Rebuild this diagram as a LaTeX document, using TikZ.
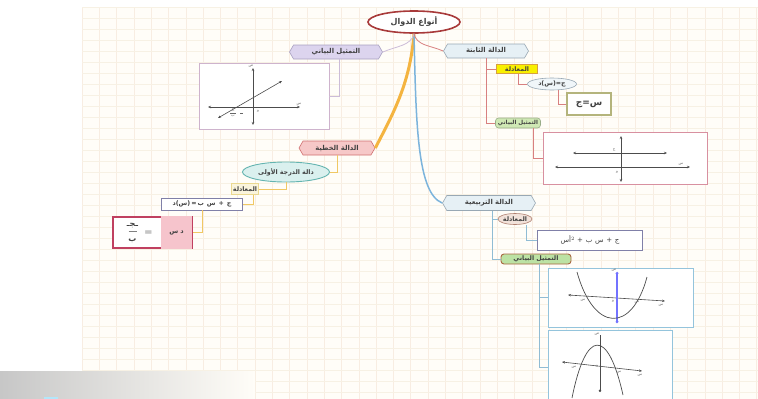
\documentclass[tikz,border=0pt]{standalone}
\usepackage{fontspec}
\TeXXeTstate=1
\newfontfamily\arfont[Script=Arabic]{DejaVu Sans}
\newfontfamily\symfont{DejaVu Sans}
\usetikzlibrary{shapes.geometric,shapes.symbols,arrows.meta,calc}
\newcommand\ar[1]{{\arfont\beginR #1\endR}}
% one Arabic piece in a box of its own, so pieces run left to right
\newcommand\arw[1]{\hbox{\arfont #1}}
\newcommand\sym[1]{\hbox{\symfont #1}}

\definecolor{paper}{HTML}{FFFDF8}
\definecolor{gridv}{HTML}{F8EDE2}
\definecolor{gridh}{HTML}{F7F1E4}
\definecolor{rootred}{HTML}{A83A3A}
\definecolor{lavfill}{HTML}{DCD4EE}
\definecolor{lavline}{HTML}{A8A0C0}
\definecolor{skyfill}{HTML}{E6F0F5}
\definecolor{skyline}{HTML}{98A8B4}
\definecolor{yelfill}{HTML}{F8F000}
\definecolor{yelline}{HTML}{D8A040}
\definecolor{olivebox}{HTML}{B4B47C}
\definecolor{grnfill}{HTML}{CFE8B4}
\definecolor{grnline}{HTML}{98AC88}
\definecolor{pinkbox}{HTML}{D890A0}
\definecolor{pinkhex}{HTML}{F6C8C8}
\definecolor{pinkhexl}{HTML}{D07070}
\definecolor{tealfill}{HTML}{DAF0EE}
\definecolor{tealline}{HTML}{64B4B0}
\definecolor{beigefill}{HTML}{FAF4DC}
\definecolor{beigeline}{HTML}{EAD890}
\definecolor{purpline}{HTML}{8080A8}
\definecolor{rootpink}{HTML}{C04060}
\definecolor{rootfill}{HTML}{F6C4CC}
\definecolor{qellfill}{HTML}{F2E2DA}
\definecolor{qellline}{HTML}{B08070}
\definecolor{qgfill}{HTML}{BCE2A4}
\definecolor{qgline}{HTML}{A86840}
\definecolor{qbox}{HTML}{94C4DC}
\definecolor{cstln}{HTML}{D88080}
\definecolor{repln}{HTML}{CCBCD8}
\definecolor{linln}{HTML}{F0C864}
\definecolor{quadln}{HTML}{90BCD4}
\definecolor{stemorange}{HTML}{F4B440}
\definecolor{stemblue}{HTML}{7CB4DC}

\tikzset{
  txt/.style={font=\fontsize{6.3}{7}\selectfont\bfseries, text=black!75, inner sep=0pt},
  hexa/.style={txt, font=\fontsize{6.8}{7.5}\selectfont\bfseries, shape=signal, signal to=west and east, signal pointer angle=120, draw, line width=0.6pt},
  boxed/.style={txt, shape=rectangle, draw, line width=0.6pt},
  rboxed/.style={txt, shape=rectangle, rounded corners=3pt, draw, line width=0.6pt},
  oval/.style={txt, shape=ellipse, draw, line width=0.6pt},
  graphbox/.style={shape=rectangle, draw, fill=white, line width=0.8pt},
  axis/.style={line width=0.6pt, black!70, {Stealth[length=3pt,width=2.5pt]}-{Stealth[length=3pt,width=2.5pt]}},
  tiny/.style={font=\fontsize{3.8}{4}\selectfont, text=black!60, inner sep=0pt},
  conn/.style={line width=0.8pt}
}

\begin{document}
\begin{tikzpicture}[x=1pt,y=-1pt]
\useasboundingbox (0,0) rectangle (758,399);

% squared paper
\fill[white] (0,0) rectangle (758,399);
\fill[paper] (82,7) rectangle (758,399);
\foreach \i in {0,...,39} {
  \draw[gridv, line width=0.6pt] ({82+17.3*\i},7) -- ({82+17.3*\i},399);
}
\foreach \j in {0,...,35} {
  \draw[gridh, line width=0.6pt] (82,{7+11*\j}) -- (758,{7+11*\j});
}

% central topic
\node[oval, draw=rootred, line width=1.6pt, fill=white, minimum width=92, minimum height=22,
      font=\fontsize{8}{9}\selectfont\bfseries] (root) at (414,22) {\ar{أنواع الدوال}};

% first level
\node[hexa, fill=lavfill, draw=lavline, minimum width=93, minimum height=14] (rep) at (336,52) {\ar{التمثيل البياني}};
\node[hexa, fill=skyfill, draw=skyline, minimum width=85, minimum height=14] (cst) at (486,51) {\ar{الدالة الثابتة}};
\node[hexa, fill=pinkhex, draw=pinkhexl, minimum width=76, minimum height=14] (lin) at (337,148) {\ar{الدالة الخطية}};
\node[hexa, fill=skyfill, draw=skyline, minimum width=93, minimum height=15] (qd) at (489,203) {\ar{الدالة التربيعية}};

% stems from the central topic
\draw[line width=3pt, stemorange] (root.south) .. controls +(-4,50) and +(18,-35) .. (lin.east);
\draw[line width=1.5pt, stemblue] (root.south) .. controls +(2,90) and +(-25,-10) .. (qd.west);
\draw[line width=0.8pt, repln] (root.south) .. controls +(-3,12) and +(14,-6) .. (rep.east);
\draw[line width=0.8pt, cstln] (root.south) .. controls +(3,12) and +(-14,-6) .. (cst.west);

% graphical representation (left)
\node[graphbox, draw=repln!80!pinkbox, minimum width=130, minimum height=66] (g0) at (264,96) {};
\draw[conn, repln] ([xshift=3pt]rep.south) |- (g0.east);
\draw[axis] (253,68) -- (253,125);
\draw[axis] (208,107) -- (300,107);
\draw[axis] (218,118) -- (282,81);
\node[tiny] (g0y) at (251,66) {\ar{ص}};
\node[tiny] (g0x) at (299,104) {\ar{س}};
\node[tiny] (g0o) at (258,111) {\ar{و}};
\node[tiny] (g0n) at (233,110) {\ar{ج}};
\node[tiny] (g0d) at (233,116) {\ar{ب}};
\draw[black!60, line width=0.3pt] (230,113) -- (236,113);
\draw[black!60, line width=0.3pt] (240,113) -- (243,113);

% constant function
\node[boxed, fill=yelfill, draw=yelline, minimum width=41, minimum height=9] (eqA) at (517,69) {\ar{المعادلة}};
\node[oval, fill=skyfill!60, draw=skyline, minimum width=49, minimum height=12] (fA) at (552,84)
  {\arw{د}\sym{(}\arw{س}\sym{)}\sym{=}\arw{ج}};
\node[boxed, draw=olivebox, line width=1.3pt, fill=white, minimum width=44, minimum height=22,
      font=\fontsize{9}{10}\selectfont\bfseries] (sA) at (589,104) {\ar{س=ج}};
\node[rboxed, fill=grnfill, draw=grnline, minimum width=45, minimum height=10,
      font=\fontsize{5.6}{6}\selectfont\bfseries] (grA) at (518,123) {\ar{التمثيل البياني}};
\node[graphbox, draw=pinkbox, minimum width=164, minimum height=52] (gA) at (625,158) {};

\draw[conn, cstln] (cst.south) |- (eqA.west);
\draw[conn, cstln] (cst.south) |- (grA.west);
\draw[conn, cstln] ([xshift=1pt]eqA.south) |- (fA.west);
\draw[conn, cstln] ([xshift=6pt]fA.south) |- (sA.west);
\draw[conn, cstln] ([xshift=15pt]grA.south) |- (gA.west);

\draw[axis] (621,136) -- (621,182);
\draw[axis] (573,153) -- (667,153);
\draw[axis] (555,167) -- (690,167);
\node[tiny] (gAc) at (614,150) {\ar{ج}};
\node[tiny] (gAx) at (681,164) {\ar{س}};
\node[tiny] (gAo) at (617,172) {\ar{و}};

% linear function
\node[oval, fill=tealfill, draw=tealline, line width=0.9pt, minimum width=87, minimum height=20] (deg) at (286,172) {\ar{دالة الدرجة الأولى}};
\node[boxed, fill=beigefill, draw=beigeline, minimum width=27, minimum height=11] (eqL) at (245,189) {\ar{المعادلة}};
\node[boxed, fill=white, draw=purpline, line width=0.9pt, minimum width=81, minimum height=12] (fL) at (202,204)
  {\arw{د}\sym{(}\arw{س}\sym{)}\,\sym{=}\,\arw{ب}\ \arw{س}\ \sym{+}\ \arw{ج}};
\node[boxed, fill=white, draw=rootpink, line width=1.1pt, minimum width=79, minimum height=31] (rL) at (152.5,232.5) {};
\fill[rootfill] ([xshift=-0.55pt,yshift=0.55pt]rL.north east) rectangle ([xshift=-32pt,yshift=-0.55pt]rL.south east);
\node[txt, font=\fontsize{6.5}{7}\selectfont\bfseries] (rLa) at ([xshift=-16pt]rL.east) {\ar{د س}};
\node[txt, font=\fontsize{8}{9}\selectfont\bfseries] (rLe) at ([xshift=-4pt]rL.center) {=};
\node[txt, font=\fontsize{8}{9}\selectfont\bfseries] (rLn) at ([xshift=-20pt,yshift=7pt]rL.center) {\ar{ـجـ}};
\node[txt, font=\fontsize{8}{9}\selectfont\bfseries] (rLd) at ([xshift=-20pt,yshift=-8pt]rL.center) {\ar{ب}};
\draw[black!50, line width=0.4pt] ([xshift=-24pt,yshift=1pt]rL.center) -- ([xshift=-16pt,yshift=1pt]rL.center);

\draw[conn, linln] (lin.south) |- (deg.east);
\draw[conn, linln] (deg.south) |- (eqL.east);
\draw[conn, linln] ([xshift=8pt]eqL.south) |- (fL.east);
\draw[conn, linln] (fL.south) |- (rL.east);

% quadratic function
\node[oval, fill=qellfill, draw=qellline, minimum width=34, minimum height=11] (qe) at (515,219) {\ar{المعادلة}};
\node[boxed, fill=white, draw=purpline, line width=0.9pt, minimum width=105, minimum height=20,
      font=\fontsize{7}{8}\selectfont] (qf) at (590,240)
  {\arw{أس}\raisebox{2.5pt}{\hbox{\fontsize{5}{5}\selectfont 2}}\ \sym{+}\ \arw{ب}\ \arw{س}\ \sym{+}\ \arw{ج}};
\node[rboxed, fill=qgfill, draw=qgline, line width=0.9pt, minimum width=70, minimum height=10] (qg) at (536,259) {\ar{التمثيل البياني}};
\node[graphbox, draw=qbox, minimum width=145, minimum height=59] (gB) at (620.5,297.5) {};
\node[graphbox, draw=qbox, minimum width=124, minimum height=75] (gC) at (610,367.5) {};

\draw[conn, quadln] ([xshift=3pt]qd.south) |- (qe.west);
\draw[conn, quadln] ([xshift=3pt]qd.south) |- (qg.west);
\draw[conn, quadln] ([xshift=11pt]qe.south) |- (qf.west);
\draw[conn, quadln] ([xshift=3pt]qg.south) |- (gB.west);
\draw[conn, quadln] ([xshift=3pt]qg.south) |- (gC.west);

% upward parabola
\draw[axis] (568,295) -- (665,301);
\draw[line width=1.6pt, blue!55, {Circle[length=2.5pt]}-{Circle[length=2.5pt]}] (617,272) -- (617,323);
\draw[line width=0.7pt, black!70] (577,272) .. controls (594,333) and (632,333) .. (647,277);
\node[tiny] (gBa) at (583,300) {\ar{س}};
\node[tiny] (gBb) at (637,302) {\ar{س}};
\node[tiny] (gBo) at (613,301) {\ar{و}};
\node[tiny] (gBx) at (661,305) {\ar{س}};
\node[tiny] (gBy) at (614,270) {\ar{ص}};

% downward parabola
\draw[axis] (562,362) -- (642,371);
\draw[line width=0.7pt, black!70, -{Circle[length=2.5pt]}] (600,335) -- (600,392);
\draw[line width=0.7pt, black!70] (572,398) .. controls (586,328) and (608,328) .. (623,395);
\node[tiny] (gCa) at (574,367) {\ar{س}};
\node[tiny] (gCb) at (619,372) {\ar{س}};
\node[tiny] (gCo) at (597,366) {\ar{و}};
\node[tiny] (gCx) at (640,375) {\ar{س}};
\node[tiny] (gCy) at (597,334) {\ar{ص}};

% faded grey strip at the lower left
\shade[left color=black!22, right color=paper] (0,371) rectangle (255,399);
\fill[cyan!30] (44,397) rectangle (58,399);
\end{tikzpicture}
\end{document}
